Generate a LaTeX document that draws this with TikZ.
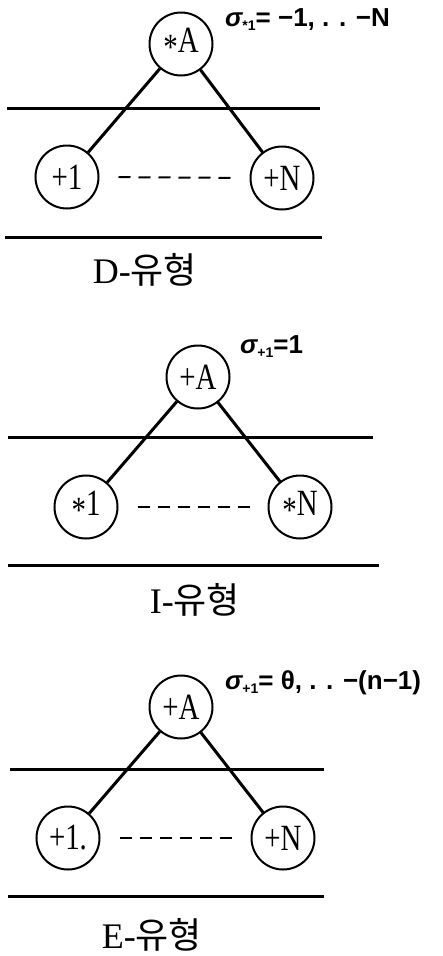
\documentclass[tikz,border=0pt]{standalone}
\usepackage{fontspec}
\setmainfont{Liberation Serif}
\newfontfamily\kr{Noto Sans CJK KR}
\newfontfamily\lsans{Liberation Sans}
\begin{document}
\begin{tikzpicture}[x=1pt,y=-1pt,
  circ/.style={circle, draw, line width=2pt, minimum size=63pt, inner sep=0pt,
    font=\fontsize{37}{37}\selectfont},
  conn/.style={line width=3pt},
  hline/.style={line width=3pt},
  dashl/.style={line width=2pt, dash pattern=on 12pt off 8pt, shorten <=19pt, shorten >=15pt},
  sig/.style={anchor=west, inner sep=0pt, font=\lsans\bfseries\fontsize{26}{26}\selectfont},
  lab/.style={inner sep=0pt, font=\fontsize{36}{36}\selectfont}]
\newcommand\cl[1]{\scalebox{0.78}[1]{#1}}
\newcommand\st{\raisebox{-0.18em}{*}}
\newcommand\sub[1]{\raisebox{-4pt}{\fontsize{14}{14}\selectfont #1}}
\useasboundingbox (0,0) rectangle (443,956);
% ---------- D type ----------
\node[circ] (A1) at (181,44) {\cl{\st A}};
\node[circ] (L1) at (67,177) {\cl{+1}};
\node[circ] (R1) at (282,178) {\cl{+N}};
\draw[conn] (A1) -- (L1);
\draw[conn] (A1) -- (R1);
\draw[dashl] (L1.east) -- (R1.west);
\coordinate (h1a) at (7,108); \coordinate (h1b) at (320,108);
\coordinate (h2a) at (5,237); \coordinate (h2b) at (322,237);
\draw[hline] (h1a) -- (h1b);
\draw[hline] (h2a) -- (h2b);
\node[lab] (T1) at (145,270) {D-{\kr 유형}};
\node[sig] (S1) at (225,20) {{\itshape σ}\sub{*1}= −1, . . −N};
% ---------- I type ----------
\node[circ] (A2) at (198,377) {\cl{+A}};
\node[circ] (L2) at (86,507) {\cl{\st1}};
\node[circ] (R2) at (300,507) {\cl{\st N}};
\draw[conn] (A2) -- (L2);
\draw[conn] (A2) -- (R2);
\draw[dashl] (L2.east) -- (R2.west);
\coordinate (h3a) at (8,437); \coordinate (h3b) at (373,437);
\coordinate (h4a) at (8,565); \coordinate (h4b) at (379,565);
\draw[hline] (h3a) -- (h3b);
\draw[hline] (h4a) -- (h4b);
\node[lab] (T2) at (195,600) {I-{\kr 유형}};
\node[sig] (S2) at (240,347) {{\itshape σ}\sub{+1}=1};
% ---------- E type ----------
\node[circ] (A3) at (181,707) {\cl{+A}};
\node[circ] (L3) at (68,838) {\cl{+1.}};
\node[circ] (R3) at (283,838) {\cl{+N}};
\draw[conn] (A3) -- (L3);
\draw[conn] (A3) -- (R3);
\draw[dashl] (L3.east) -- (R3.west);
\coordinate (h5a) at (10,769); \coordinate (h5b) at (324,769);
\coordinate (h6a) at (8,896); \coordinate (h6b) at (324,896);
\draw[hline] (h5a) -- (h5b);
\draw[hline] (h6a) -- (h6b);
\node[lab] (T3) at (152,935) {E-{\kr 유형}};
\node[sig] (S3) at (225,683) {{\itshape σ}\sub{+1}= θ, . . −(n−1)};
\end{tikzpicture}
\end{document}
